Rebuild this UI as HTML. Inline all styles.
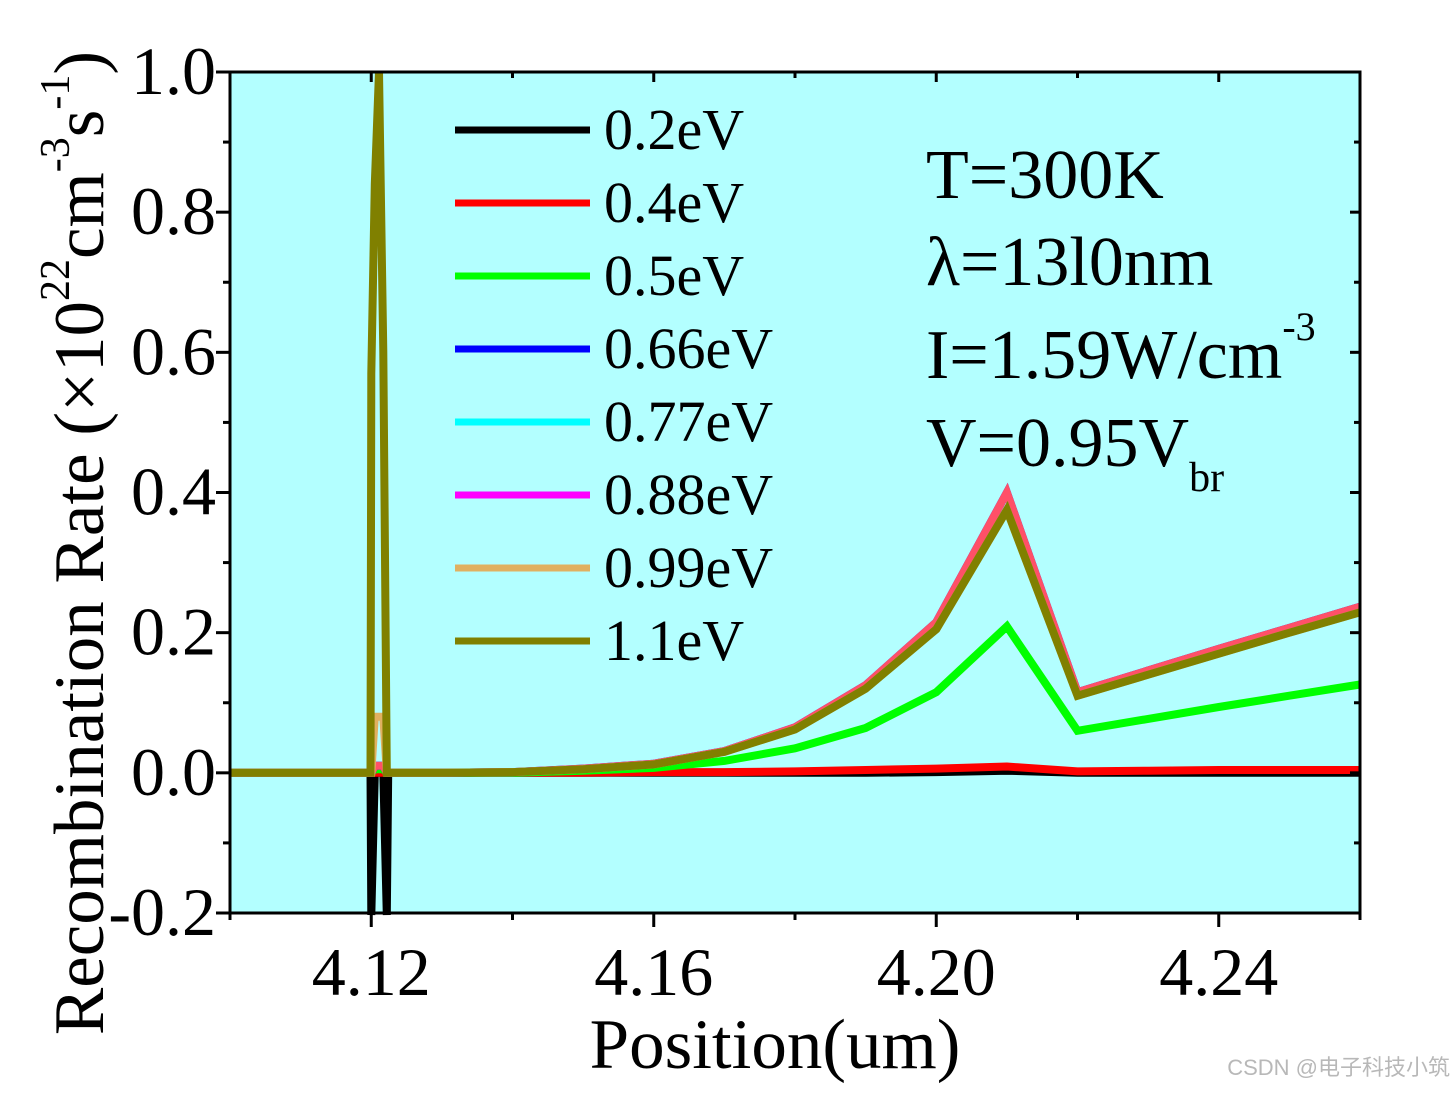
<!DOCTYPE html>
<html><head><meta charset="utf-8"><style>
body{margin:0;background:#fff;}
svg text{font-family:"Liberation Serif",serif;fill:#000;}
</style></head><body>
<svg id="chart" width="1456" height="1092" xmlns="http://www.w3.org/2000/svg">
<rect x="230" y="72" width="1130" height="841" fill="#b3ffff"/>
<g id="series"></g>
<g id="axes"></g>
<g id="legend"></g>
<g font-size="70">
<text x="926" y="198">T=300K</text>
<text x="926" y="285">λ=13l0nm</text>
<text x="926" y="378">I=1.59W/cm<tspan font-size="40" dy="-38">-3</tspan></text>
<text x="926" y="466">V=0.95V<tspan font-size="42" dy="25">br</tspan></text>
</g>
<text x="775" y="1068" font-size="71" text-anchor="middle">Position(um)</text>
<text transform="translate(103,543) rotate(-90)" font-size="71" text-anchor="middle">Recombination Rate (×10<tspan font-size="42" dy="-34">22</tspan><tspan dy="34">cm</tspan><tspan font-size="42" dy="-34">-3</tspan><tspan dy="34">s</tspan><tspan font-size="42" dy="-34">-1</tspan><tspan dy="34">)</tspan></text>
<text x="1450" y="1075" font-size="22" text-anchor="end" style="fill:#b8b8b8;font-family:'Liberation Sans','Noto Sans CJK SC',sans-serif">CSDN @电子科技小筑</text>
</svg>
<script>
const xs = [4.10,4.11,4.119,4.1199,4.12,4.1205,4.1211,4.1217,4.1222,4.1224,4.13,4.14,4.15,4.16,4.17,4.18,4.19,4.20,4.21,4.22,4.23,4.24,4.25,4.26];
const s02 = [0,0,0,0,-0.25,0,0,0,-0.25,0,0,0,0,0,0,0,0,0.001,0.003,0,0,0,0,0];
const s04 = [0,0,0,0,0,0,0,0,0,0,0,0,0,0.001,0.001,0.002,0.004,0.006,0.009,0.002,0.003,0.004,0.004,0.004];
const s05 = [0,0,0,0,0,0.005,0.005,0.005,0,0,0,0,0.003,0.007,0.017,0.035,0.064,0.115,0.209,0.06,0.077,0.094,0.11,0.126];
const s066 = [0,0,0,0,0,0.01,0.01,0.01,0,0,0,0.001,0.006,0.013,0.031,0.065,0.125,0.215,0.40,0.115,0.146,0.177,0.207,0.237];
const s088 = [0,0,0,0,0,0.01,0.01,0.01,0,0,0,0.001,0.006,0.013,0.031,0.065,0.125,0.215,0.40,0.115,0.146,0.177,0.207,0.237];
const s099 = [0,0,0,0,0,0.08,0.08,0.08,0,0,0,0.001,0.005,0.012,0.03,0.062,0.12,0.205,0.375,0.11,0.14,0.17,0.2,0.229];
const s11 = [0,0,0,0,0.57,0.84,1.0,0.6,0,0,0,0.001,0.005,0.012,0.03,0.062,0.12,0.205,0.375,0.11,0.14,0.17,0.2,0.229];
const legendLabels = ["0.2eV","0.4eV","0.5eV","0.66eV","0.77eV","0.88eV","0.99eV","1.1eV"];
const legendColors = ["#000000","#ff0000","#00ff00","#0000ff","#00ffff","#ff00ff","#e0b060","#808000"];
const xTicks = [4.12,4.16,4.20,4.24];
const xTickLabels = ["4.12","4.16","4.20","4.24"];
const yTicks = [-0.2,0,0.2,0.4,0.6,0.8,1.0];
const yTickLabels = ["-0.2","0.0","0.2","0.4","0.6","0.8","1.0"];

const NS="http://www.w3.org/2000/svg";
const X0=230,X1=1360,Y0=72,Y1=913;
function sx(v){return X0+(v-4.10)/(4.26-4.10)*(X1-X0);}
function sy(v){return Y1-(v+0.2)/1.2*(Y1-Y0);}
function mk(tag,attrs,parent){const e=document.createElementNS(NS,tag);for(const k in attrs)e.setAttribute(k,attrs[k]);parent.appendChild(e);return e;}
const ser=document.getElementById('series');
const seriesList=[[s02,"#000000"],[s04,"#ff0000"],[s05,"#00ff00"],[s066,"#0000ff"],[s088,"#ff5068"],[s099,"#e0b060"],[s11,"#808000"]];
const seriesNames=["series-0-2ev","series-0-4ev","series-0-5ev","series-0-66ev","series-0-88ev","series-0-99ev","series-1-1ev"];
seriesList.forEach((s,i)=>{
  const pts=xs.map((x,j)=>sx(x).toFixed(1)+","+Math.min(sy(s[0][j]),Y1+2).toFixed(1)).join(" ");
  const pl=mk('polyline',{points:pts,fill:"none",stroke:s[1],"stroke-width":8,"stroke-linejoin":"miter"},ser);
  
  
});
const ax=document.getElementById('axes');
const fr=mk('rect',{x:X0,y:Y0,width:X1-X0,height:Y1-Y0,fill:"none",stroke:"#000","stroke-width":3},ax);


for(let v=-0.2;v<=1.001;v+=0.1){
  const y=sy(v);const major=Math.abs(Math.round(v*10)%2)===0;
  const t=mk('line',{x1:X0-(major?14:7),x2:X0,y1:y,y2:y,stroke:"#000","stroke-width":3},ax);
  
  
  const t2=mk('line',{x1:X1,x2:X1-(major?10:6),y1:y,y2:y,stroke:"#000","stroke-width":3},ax);
  
  
}
for(let v=4.10;v<=4.2601;v+=0.02){
  const x=sx(v);const major=Math.round(v*100)%4===0;
  const t=mk('line',{x1:x,x2:x,y1:Y1,y2:Y1+(major?14:7),stroke:"#000","stroke-width":3},ax);
  
  
  const t2=mk('line',{x1:x,x2:x,y1:Y0,y2:Y0+(major?10:6),stroke:"#000","stroke-width":3},ax);
  
  
}
yTicks.forEach((v,i)=>{
  const t=mk('text',{x:216,y:sy(v)+22,"font-size":68,"text-anchor":"end"},ax);
  t.textContent=yTickLabels[i];
  
  
});
xTicks.forEach((v,i)=>{
  const t=mk('text',{x:sx(v),y:995,"font-size":68,"text-anchor":"middle"},ax);
  t.textContent=xTickLabels[i];
  
  
});
const lg=document.getElementById('legend');
legendLabels.forEach((lab,i)=>{
  const y=130+i*73;
  const l=mk('line',{x1:455,x2:590,y1:y,y2:y,stroke:legendColors[i],"stroke-width":7},lg);
  
  
  const t=mk('text',{x:604,y:y+19,"font-size":58},lg);
  t.textContent=lab;
  
  
});
</script>
</body></html>
